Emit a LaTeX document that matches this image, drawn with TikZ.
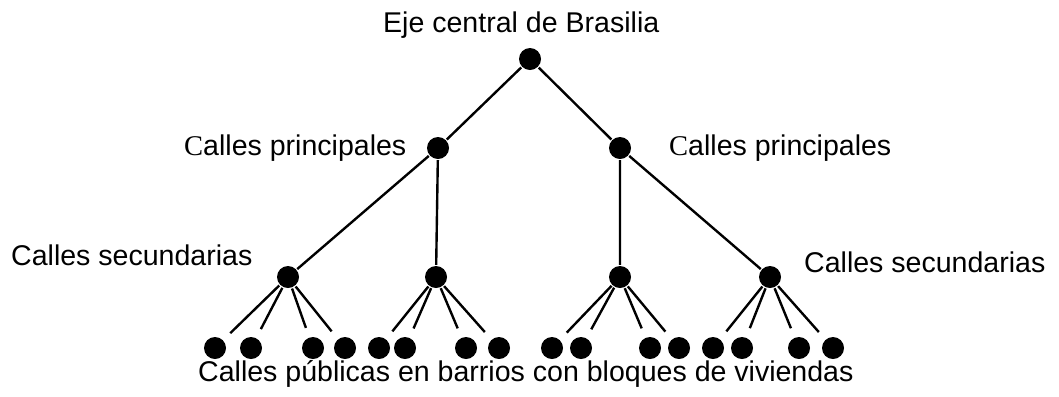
\documentclass[tikz,border=0pt]{standalone}
\usepackage{fontspec}
\setmainfont{Liberation Sans}
\newfontfamily\serifC{Liberation Serif}
\usetikzlibrary{positioning}
\tikzset{punto/.style={circle,fill=black,inner sep=0pt,minimum size=0.55cm},
	texto/.style={anchor=base west,inner sep=0pt}}
\begin{document}
\begin{tikzpicture}[x=0.025cm,y=-0.025cm,line join=round,line width=1.7pt,font=\fontsize{20.3}{24}\selectfont]
	\useasboundingbox (0,0) rectangle (1059,396);
	%Eje central
	\node[punto] (eje) at (530,59) {};
	%Calles principales
	\node[punto] (pI) at (438,148) {};
	\node[punto] (pD) at (620,148) {};
	%Calles secundarias
	\node[punto] (s1) at (288,277) {};
	\node[punto] (s2) at (436,277) {};
	\node[punto] (s3) at (620,277) {};
	\node[punto] (s4) at (770,277) {};
	\draw (eje)--(pI) (eje)--(pD);
	\draw (pI)--(s1) (pI)--(s2) (pD)--(s3) (pD)--(s4);
	%Calles publicas
	\foreach \p/\xs in {s1/{215,251,313,345},s2/{379,405,466,499},s3/{552,581,650,679},s4/{713,742,799,833}}{
		\foreach \x [count=\i] in \xs {
			\node[punto] (h\p\i) at (\x,348) {};
			\draw[shorten >=6.5pt] (\p)--(h\p\i);
		}
	}
	%Textos
	\node[texto] (tEje) at (382,32) {Eje central de Brasilia};
	\node[texto] (tPI) at (183,155) {{\serifC C}alles principales};
	\node[texto] (tPD) at (668,155) {{\serifC C}alles principales};
	\node[texto] (tSI) at (10,265) {Calles secundarias};
	\node[texto] (tSD) at (803,272) {Calles secundarias};
	\node[texto] (tHoj) at (197,381) {Calles públicas en barrios con bloques de viviendas};
\end{tikzpicture}
\end{document}
